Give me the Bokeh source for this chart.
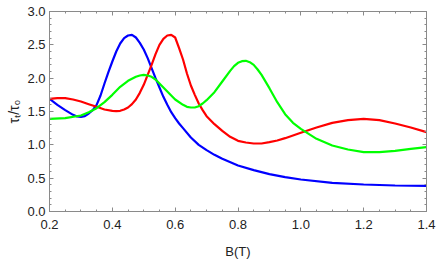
from bokeh.plotting import figure
from bokeh.models import LinearAxis, Range1d, FixedTicker, CustomLabelingPolicy
from bokeh.embed import file_html
from bokeh.resources import INLINE

# data
blue_x = [0.200, 0.225, 0.250, 0.275, 0.2875, 0.300, 0.3125, 0.325, 0.3375, 0.350, 0.3625, 0.375,
          0.3875, 0.400, 0.4125, 0.425, 0.4375, 0.450, 0.4625, 0.475, 0.4875, 0.500, 0.5125,
          0.525, 0.5375, 0.550, 0.5625, 0.575, 0.5875, 0.600, 0.6125, 0.625, 0.650, 0.675,
          0.700, 0.725, 0.750, 0.800, 0.850, 0.900, 0.950, 1.000, 1.100, 1.200, 1.300, 1.400]
blue_y = [1.69, 1.60, 1.52, 1.45, 1.425, 1.42, 1.43, 1.47, 1.52, 1.60, 1.74, 1.92,
          2.09, 2.25, 2.40, 2.52, 2.60, 2.64, 2.65, 2.61, 2.53, 2.43, 2.30,
          2.15, 2.00, 1.86, 1.72, 1.60, 1.49, 1.40, 1.32, 1.25, 1.11, 1.00,
          0.92, 0.85, 0.79, 0.69, 0.62, 0.56, 0.515, 0.48, 0.43, 0.405, 0.39, 0.385]

red_x = [0.200, 0.225, 0.250, 0.275, 0.300, 0.325, 0.350, 0.375, 0.400, 0.4125, 0.425, 0.4375,
         0.450, 0.4625, 0.475, 0.4875, 0.500, 0.5125, 0.525, 0.5375, 0.550, 0.5625, 0.575,
         0.5875, 0.600, 0.6125, 0.625, 0.6375, 0.650, 0.6625, 0.675, 0.6875, 0.700, 0.725,
         0.750, 0.775, 0.800, 0.825, 0.850, 0.875, 0.900, 0.925, 0.950, 1.000, 1.050, 1.100,
         1.150, 1.200, 1.250, 1.300, 1.350, 1.400]
red_y = [1.69, 1.70, 1.70, 1.68, 1.65, 1.61, 1.57, 1.53, 1.51, 1.505, 1.51, 1.53,
         1.56, 1.61, 1.68, 1.78, 1.90, 2.05, 2.20, 2.36, 2.50, 2.59, 2.64,
         2.65, 2.61, 2.45, 2.28, 2.07, 1.89, 1.75, 1.62, 1.52, 1.43, 1.31,
         1.21, 1.12, 1.06, 1.035, 1.02, 1.02, 1.04, 1.065, 1.10, 1.18, 1.26, 1.33,
         1.37, 1.39, 1.37, 1.32, 1.26, 1.19]

green_x = [0.200, 0.250, 0.300, 0.325, 0.350, 0.375, 0.400, 0.425, 0.450, 0.475, 0.4875, 0.500,
           0.5125, 0.525, 0.5375, 0.550, 0.575, 0.600, 0.625, 0.6375, 0.650, 0.6625, 0.675,
           0.6875, 0.700, 0.725, 0.750, 0.775, 0.7875, 0.800, 0.8125, 0.825, 0.8375, 0.850,
           0.8625, 0.875, 0.900, 0.925, 0.950, 0.975, 1.000, 1.050, 1.100, 1.150, 1.200,
           1.250, 1.300, 1.350, 1.400]
green_y = [1.39, 1.40, 1.44, 1.49, 1.55, 1.64, 1.75, 1.87, 1.96, 2.02, 2.04, 2.05,
           2.04, 2.02, 1.98, 1.92, 1.80, 1.68, 1.60, 1.57, 1.56, 1.56, 1.58,
           1.62, 1.67, 1.79, 1.95, 2.11, 2.18, 2.23, 2.255, 2.26, 2.24, 2.20,
           2.13, 2.05, 1.85, 1.64, 1.46, 1.33, 1.24, 1.09, 0.99, 0.93, 0.89,
           0.89, 0.91, 0.94, 0.965]

x_ticks = [0.2, 0.4, 0.6, 0.8, 1.0, 1.2, 1.4]
y_ticks = [0.0, 0.5, 1.0, 1.5, 2.0, 2.5, 3.0]
x_minor = [round(0.2 + 0.05 * i, 3) for i in range(25)]
y_minor = [round(0.1 * i, 3) for i in range(31)]

FONT = "Liberation Sans"
FRAME = "#8a8a8a"
TEXT = "#222222"

p = figure(width=436, height=262, output_backend="svg", toolbar_location=None,
           x_range=Range1d(0.2, 1.4), y_range=Range1d(0.0, 3.0),
           min_border_left=49, min_border_right=10, min_border_top=11, min_border_bottom=51,
           x_axis_label="B(T)", y_axis_label="τₜ/τ₀")
p.grid.visible = False
p.outline_line_color = FRAME
p.background_fill_color = "white"
p.border_fill_color = "white"

p.line(blue_x, blue_y, line_color="#0000ff", line_width=2.2)
p.line(red_x, red_y, line_color="#ff0000", line_width=2.2)
p.line(green_x, green_y, line_color="#00ff00", line_width=2.2)

def style(ax):
    ax.axis_line_color = FRAME
    ax.major_tick_line_color = FRAME
    ax.minor_tick_line_color = FRAME
    ax.major_tick_in = 4
    ax.major_tick_out = 0
    ax.minor_tick_in = 2
    ax.minor_tick_out = 0

for ax in (p.xaxis[0], p.yaxis[0]):
    style(ax)
    ax.major_label_text_font = FONT
    ax.major_label_text_font_size = "13px"
    ax.major_label_text_color = TEXT
    ax.axis_label_text_font = FONT
    ax.axis_label_text_font_size = "13px"
    ax.axis_label_text_font_style = "normal"
    ax.axis_label_text_color = TEXT

p.xaxis.ticker = FixedTicker(ticks=x_ticks, minor_ticks=x_minor)
p.yaxis.ticker = FixedTicker(ticks=y_ticks, minor_ticks=y_minor)
p.xaxis.major_label_overrides = {v: f"{v:.1f}" for v in x_ticks}
p.yaxis.major_label_overrides = {v: f"{v:.1f}" for v in y_ticks}
p.xaxis.major_label_standoff = 8
p.yaxis.major_label_standoff = 4
p.xaxis.axis_label_standoff = 12
p.yaxis.axis_label_standoff = 2
p.yaxis.axis_label_text_font_size = "14px"

no_labels = "for (const i of Array.from(indices)) { indices.unset(i) } return indices"
top = LinearAxis(ticker=FixedTicker(ticks=x_ticks, minor_ticks=x_minor),
                 major_label_policy=CustomLabelingPolicy(code=no_labels),
                 major_label_standoff=0, major_label_text_font_size="1px")
right = LinearAxis(ticker=FixedTicker(ticks=y_ticks, minor_ticks=y_minor),
                   major_label_policy=CustomLabelingPolicy(code=no_labels),
                   major_label_standoff=0, major_label_text_font_size="1px")
style(top)
style(right)
p.add_layout(top, "above")
p.add_layout(right, "right")

open("out.html", "w").write(file_html(p, INLINE))
